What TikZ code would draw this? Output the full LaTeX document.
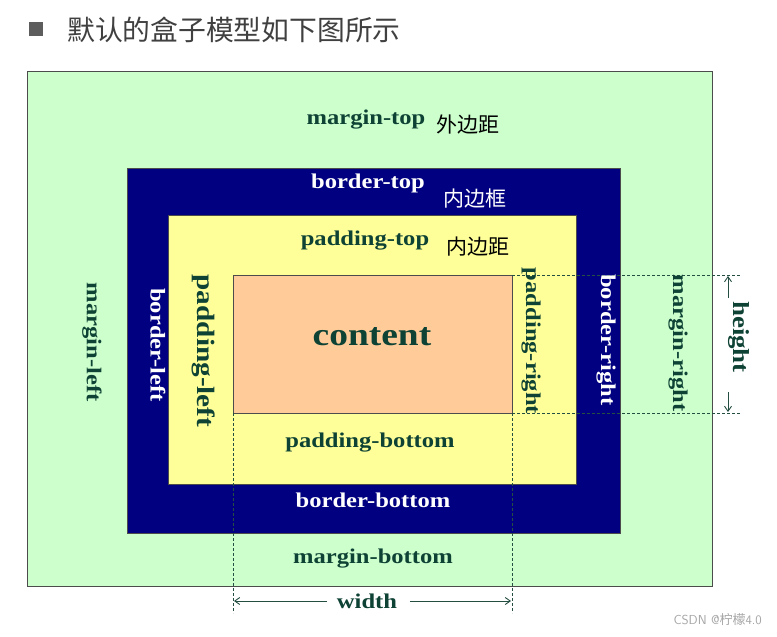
\documentclass[tikz,border=0pt]{standalone}
\usepackage{fontspec}
\usepackage{graphicx}
\setmainfont{Liberation Serif}
\newfontfamily\cjk{Noto Sans CJK SC}
\usetikzlibrary{arrows.meta}
\definecolor{mgn}{HTML}{CCFFCC}
\definecolor{brd}{HTML}{000080}
\definecolor{pad}{HTML}{FFFF99}
\definecolor{cnt}{HTML}{FFCC99}
\definecolor{lbl}{RGB}{14,66,52}
\definecolor{ttl}{HTML}{404040}
\newcommand{\Wd}[1]{\scalebox{1.17}[1]{#1}}
\tikzset{
  lab/.style={font=\fontsize{21}{22}\selectfont\bfseries, text=lbl, inner sep=0pt},
  wlab/.style={lab, text=white},
  cn/.style={font=\cjk\fontsize{21}{22}\selectfont, inner sep=0pt},
  dim/.style={draw=lbl!80!gray, densely dashed, line width=0.8pt},
  arr/.style={draw=lbl!80!gray, line width=0.9pt, -{Straight Barb[length=5pt,width=7pt]}},
  box/.style={draw=black!70, line width=0.8pt}
}
\begin{document}
\begin{tikzpicture}[x=1pt,y=-1pt]
\useasboundingbox (0,0) rectangle (777,637);
\fill[white] (0,0) rectangle (777,637);
% title
\fill[ttl!85] (29,22) rectangle (43,36);
\node[font=\cjk\fontsize{27.8}{29}\selectfont, text=ttl, anchor=west, inner sep=0pt] (title) at (67,30) {默认的盒子模型如下图所示};
% boxes
\path[box, fill=mgn] (27,71) rectangle (712,586);
\path[box, fill=brd] (127,168) rectangle (620,533);
\path[box, fill=pad] (168,215) rectangle (576,484);
\path[box, fill=cnt] (233,275) rectangle (512,413);
% coordinates
\coordinate (ctl) at (512,275);
\coordinate (cbl) at (512,413);
\coordinate (htop) at (741,275);
\coordinate (hbot) at (741,413);
\coordinate (cbl2) at (233,413);
\coordinate (wl) at (233,613);
\coordinate (wr) at (512,613);
% dashed guides
\draw[dim] (ctl) -- (htop);
\draw[dim] (cbl) -- (hbot);
\draw[dim] (cbl2) -- (wl);
\draw[dim] (cbl) -- (wr);
% arrows
\coordinate (hu0) at (728,298); \coordinate (hu1) at (728,276);
\coordinate (hd0) at (728,392); \coordinate (hd1) at (728,412);
\draw[arr] (hu0) -- (hu1);
\draw[arr] (hd0) -- (hd1);
\coordinate (wl0) at (327,601); \coordinate (wl1) at (234,601);
\coordinate (wr0) at (410,601); \coordinate (wr1) at (511,601);
\draw[arr] (wl0) -- (wl1);
\draw[arr] (wr0) -- (wr1);
% labels
\node[lab] (mt) at (366,120) {\Wd{margin-top}};
\node[cn] (mtc) at (468,125) {外边距};
\node[wlab] (bt) at (368,183) {\Wd{border-top}};
\node[cn, text=white] (btc) at (475,199) {内边框};
\node[lab] (pt) at (365,241) {\Wd{padding-top}};
\node[cn] (ptc) at (478,247) {内边距};
\node[lab, font=\fontsize{32}{34}\selectfont\bfseries] (ct) at (372,337) {\Wd{content}};
\node[lab, rotate=-90] (ml) at (92,342) {\Wd{margin-left}};
\node[wlab, rotate=-90] (bl) at (158,345) {\Wd{border-left}};
\node[lab, rotate=-90, font=\fontsize{25}{27}\selectfont\bfseries] (pl) at (204,351) {\Wd{padding-left}};
\node[lab, rotate=-90] (pr) at (531,341) {\Wd{padding-right}};
\node[wlab, rotate=-90] (br) at (606,340) {\Wd{border-right}};
\node[lab, rotate=-90] (mr) at (678,343) {\Wd{margin-right}};
\node[lab] (pb) at (370,443) {\Wd{padding-bottom}};
\node[wlab] (bb) at (373,500) {\Wd{border-bottom}};
\node[lab] (mb) at (373,559) {\Wd{margin-bottom}};
\node[lab] (wd) at (367,601) {\Wd{width}};
\node[lab, rotate=-90, font=\fontsize{23}{25}\selectfont\bfseries] (ht) at (739,337) {\Wd{height}};
% watermark
\node[font=\fontsize{13}{14}\selectfont\sffamily, text=black!35, anchor=east, inner sep=0pt] (wm) at (762,620) {CSDN @{\cjk 柠檬}4.0};
\end{tikzpicture}
\end{document}
